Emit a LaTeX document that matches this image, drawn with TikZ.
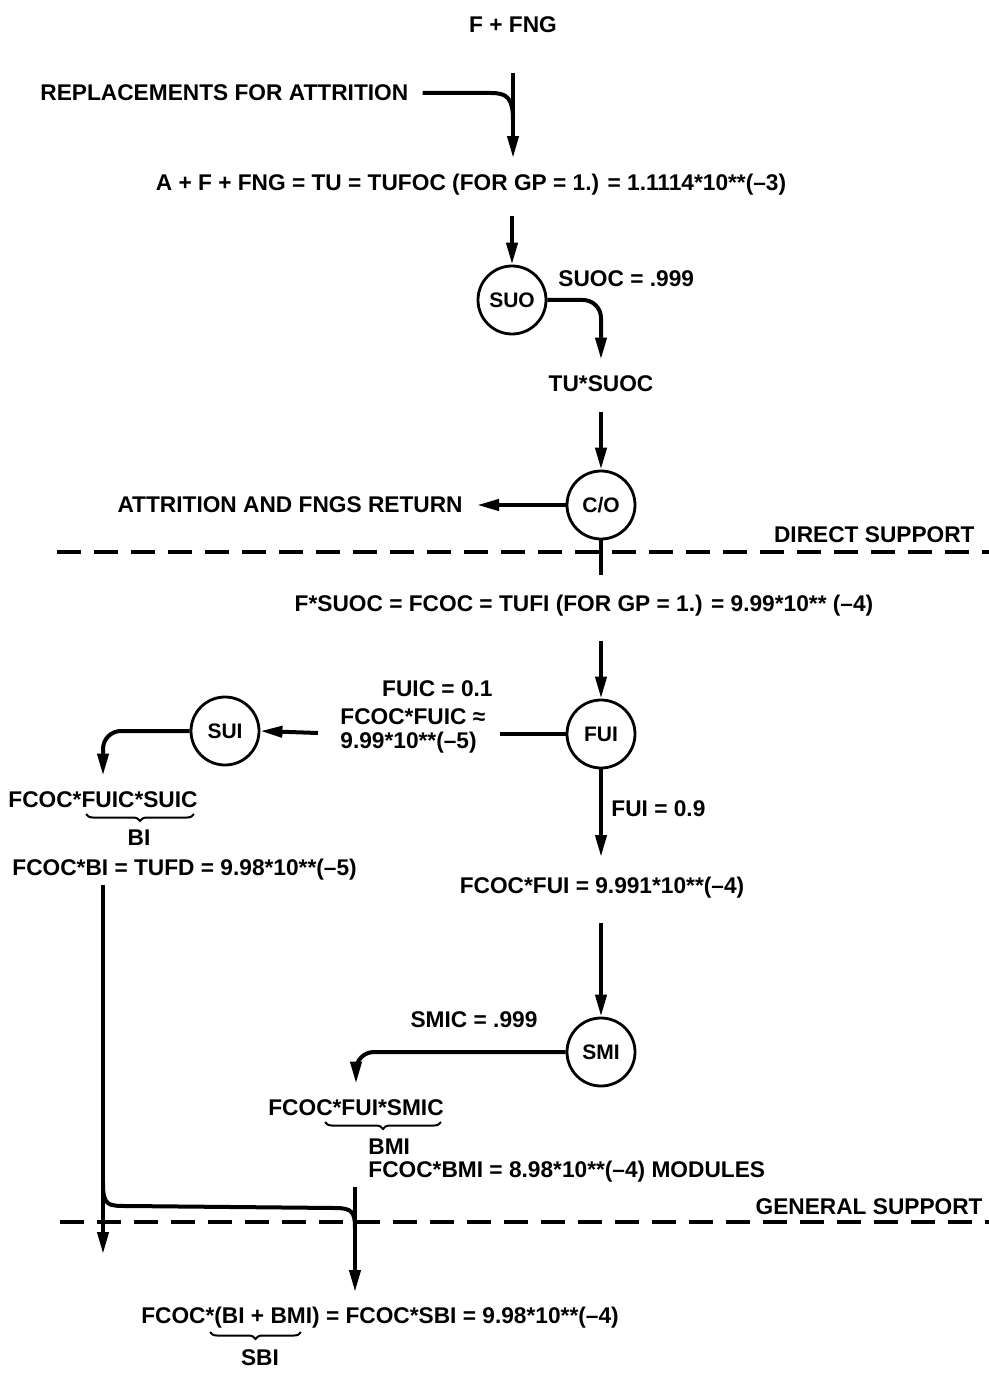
\documentclass[tikz,border=0pt]{standalone}
\usepackage{fontspec}
\setmainfont{Liberation Sans}
\usetikzlibrary{arrows.meta,decorations.pathreplacing}
\begin{document}
\begin{tikzpicture}[x=0.5pt,y=-0.5pt,
  txt/.style={font=\fontsize{11.35}{13}\selectfont\bfseries, inner sep=0pt},
  circ/.style={draw, circle, line width=1.4pt, minimum size=34pt, inner sep=0pt, font=\fontsize{10.5}{12}\selectfont\bfseries},
  conn/.style={line width=2pt},
  arr/.style={conn, -{Triangle[length=11pt,width=5.5pt]}},
  sep/.style={line width=1.7pt, dash pattern=on 12pt off 6.5pt},
  brc/.style={line width=1pt, decorate, decoration={brace, mirror, amplitude=3.5pt}}
]
\useasboundingbox (0,0) rectangle (989,1374);

% top
\node[txt] (ffng) at (513,25) {F + FNG};
\node[txt, anchor=west] (repl) at (40,93) {REPLACEMENTS FOR ATTRITION};
\node[txt] (tu) at (471,185) {A + F + FNG = TU = TUFOC (FOR GP = 1.) = 1.1114*10**(–3)};
\draw[arr, shorten <=20pt, shorten >=8pt] (ffng.south) -- (ffng.south |- tu.north);
\coordinate (j1) at (513,120);
\draw[conn, shorten <=7pt] (repl.east) -- (491,93) .. controls (507,93) and (513,98) .. (j1);

% SUO
\node[circ] (suo) at (512,300) {SUO};
\draw[arr, shorten <=10pt] (tu.south -| suo) -- (suo);
\node[txt, anchor=west] (suoc) at (558,279) {SUOC = .999};
\node[txt] (tusuoc) at (601,384) {TU*SUOC};
\draw[arr, rounded corners=9pt, shorten >=8pt] (suo.east) -| (tusuoc.north);

% C/O
\node[circ] (co) at (601,505) {C/O};
\draw[arr, shorten <=10pt] (tusuoc.south) -- (co);
\node[txt, anchor=east] (attr) at (463,505) {ATTRITION AND FNGS RETURN};
\draw[arr, shorten >=7pt] (co.west) -- (attr.east);

% direct support
\draw[sep] (57,552) -- (989,552);
\node[txt, anchor=east] (ds) at (975,535) {DIRECT SUPPORT};

\node[txt] (fsuoc) at (584,606) {F*SUOC = FCOC = TUFI (FOR GP = 1.) = 9.99*10** (–4)};
\draw[conn, shorten >=10pt] (co.south) -- (co.south |- fsuoc.north);

% FUI
\node[circ] (fui) at (601,734) {FUI};
\draw[arr, shorten <=12pt] (fsuoc.south -| fui) -- (fui);
\node[txt, anchor=east] (fuic) at (493,689) {FUIC = 0.1};
\node[txt, anchor=west] (fcocfuic) at (340,717) {FCOC*FUIC ≈};
\node[txt, anchor=west] (fuicval) at (340,743) {9.99*10**(–5)};
\coordinate (fl) at (500,734);
\coordinate (fr) at (318,733);
\draw[conn] (fui.west) -- (fl);

% SUI
\node[circ] (sui) at (225,731) {SUI};
\draw[arr] (fr) -- (sui.east);
\node[txt] (bi1) at (103,800) {FCOC*FUIC*SUIC};
\draw[arr, rounded corners=9pt, shorten >=8pt] (sui.west) -| (bi1.north);
\draw[brc] (86,814) -- (194,814);
\node[txt] (bi) at (139,838) {BI};
\node[txt, anchor=west] (tufd) at (12,870) {FCOC*BI = TUFD = 9.98*10**(–5)};

% FUI down
\node[txt] (fcocfui) at (602,888) {FCOC*FUI = 9.991*10**(–4)};
\draw[arr, shorten >=10pt] (fui.south) -- (fui.south |- fcocfui.north);
\node[txt, anchor=west] (fuiv) at (611,809) {FUI = 0.9};

% SMI
\node[circ] (smi) at (601,1052) {SMI};
\draw[arr, shorten <=12pt] (fcocfui.south -| smi) -- (smi);
\node[txt] (smic) at (474,1020) {SMIC = .999};
\node[txt] (bmi1) at (356,1108) {FCOC*FUI*SMIC};
\draw[arr, rounded corners=9pt, shorten >=8pt] (smi.west) -| (bmi1.north);
\draw[brc] (325,1122) -- (441,1122);
\node[txt, anchor=west] (bmi) at (368,1147) {BMI};
\node[txt, anchor=west] (mod) at (368,1172) {FCOC*BMI = 8.98*10**(–4) MODULES};

% general support
\draw[sep] (60,1222) -- (989,1222);
\node[txt, anchor=east] (gs) at (983,1207) {GENERAL SUPPORT};

\node[txt] (sbi1) at (380,1318) {FCOC*(BI + BMI) = FCOC*SBI = 9.98*10**(–4)};
\draw[brc] (210,1332) -- (301,1332);
\node[txt] (sbi) at (260,1358) {SBI};

\coordinate (lt) at (103,885);
\coordinate (lb) at (103,1254);
\draw[arr] (lt) -- (lb);
\coordinate (rt) at (355,1187);
\coordinate (rb) at (355,1292);
\draw[arr] (rt) -- (rb);
\coordinate (b1) at (103,1183);
\coordinate (b2) at (355,1228);
\draw[conn] (b1) .. controls (103,1206) and (108,1206) .. (128,1206) -- (335,1208) .. controls (352,1208) and (355,1212) .. (b2);
\end{tikzpicture}
\end{document}
